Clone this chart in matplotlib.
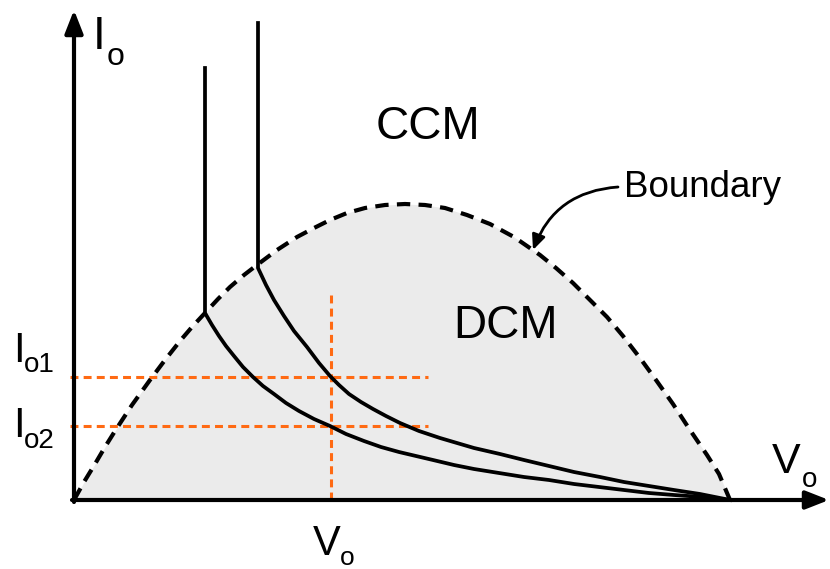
import matplotlib
matplotlib.use("Agg")
import matplotlib.pyplot as plt

plt.rcParams['font.family'] = ['Liberation Sans', 'DejaVu Sans']

# Data (arbitrary units; origin at the axes corner)
boundary_vo = [0, 10, 21, 31, 41, 58, 76, 91, 106, 118, 131, 144, 156, 170, 183, 203,
               223, 240, 256, 273, 291, 311, 331, 351, 371, 393, 416, 440, 466, 482,
               499, 516, 533, 549, 566, 582, 599, 616, 633, 645, 656]
boundary_io = [0, 18, 36, 53, 69, 95, 120, 140, 159, 173, 187, 201, 213, 225, 235, 250,
               263, 272, 280, 287, 292, 295, 296, 295, 292, 285, 276, 263, 245, 232,
               217, 200, 183, 164, 142, 120, 96, 70, 45, 26, 0]

curve1_vo = [131, 131, 138, 145, 152, 160, 169, 179, 189, 200, 212, 225, 240, 256, 272,
             290, 307, 325, 342, 359, 380, 400, 425, 450, 475, 500, 525, 550, 575, 600,
             628, 656]
curve1_io = [432, 187, 175, 164, 154, 144, 133, 123, 114, 106, 97, 89, 81, 74, 66,
             59, 53, 48, 44, 40, 35, 31, 27, 23, 20, 16, 13, 10, 7, 5, 3, 0]

curve2_vo = [184, 184, 192, 200, 210, 220, 233, 245, 256, 265, 275, 287, 299, 312, 326,
             345, 366, 383, 400, 426, 450, 475, 500, 526, 550, 575, 600, 626, 656]
curve2_io = [477, 232, 215, 200, 184, 169, 153, 137, 124, 115, 106, 98, 91, 84, 77,
             69, 62, 57, 52, 46, 40, 34, 28, 23, 18, 14, 10, 6, 0]

io_levels = [123, 74]            # Io1, Io2
io_labels = ['o1', 'o2']
vo_level = 257
orange_x_end = 354
orange_v_top = 205

fig = plt.figure(figsize=(8.3, 5.69), dpi=100)
ax = fig.add_axes([0, 0, 1, 1])
ax.set_xlim(-74, 756)
ax.set_ylim(-69, 500)
ax.axis('off')

ax.fill_between(boundary_vo, boundary_io, 0, color='#ebebeb', lw=0, zorder=1)

orange = '#ff6a13'
for lvl in io_levels:
    ax.plot([-4, orange_x_end], [lvl, lvl], color=orange, lw=2.2,
            linestyle=(0, (2.6, 1.7)), zorder=2)
ax.plot([vo_level, vo_level], [0, orange_v_top], color=orange, lw=2.2,
        linestyle=(0, (2.6, 1.7)), zorder=2)

ax.plot(boundary_vo, boundary_io, color='black', lw=3.0,
        linestyle=(0, (3.2, 2.0)), zorder=3)

ax.plot(curve1_vo, curve1_io, color='black', lw=2.7, zorder=4,
        solid_joinstyle='round')
ax.plot(curve2_vo, curve2_io, color='black', lw=2.7, zorder=4,
        solid_joinstyle='round')

# axes with arrows
ax.annotate('', xy=(0, 490), xytext=(0, -2),
            arrowprops=dict(arrowstyle='-|>,head_length=1.4,head_width=0.55',
                            lw=3.0, color='black', shrinkA=0, shrinkB=0,
                            mutation_scale=10), zorder=5)
ax.annotate('', xy=(755, 0), xytext=(-2, 0),
            arrowprops=dict(arrowstyle='-|>,head_length=1.4,head_width=0.55',
                            lw=3.0, color='black', shrinkA=0, shrinkB=0,
                            mutation_scale=10), zorder=5)

# Boundary arrow
ax.annotate('', xy=(459, 250), xytext=(544, 313),
            arrowprops=dict(arrowstyle='-|>,head_length=0.9,head_width=0.4',
                            lw=2.0, color='black', shrinkA=0, shrinkB=0,
                            mutation_scale=10,
                            connectionstyle='arc3,rad=0.32'), zorder=5)

def t(x, y, s, size):
    ax.text(x, y, s, fontsize=size, ha='left', va='baseline', color='black', zorder=6)

# Io axis label
t(93 - 74, 500 - 49, 'I', 33)
t(107 - 74, 500 - 65, 'o', 23)
# Vo axis label (right)
t(772 - 74, 500 - 473, 'V', 31)
t(802 - 74, 500 - 487, 'o', 20)
# Vo label (bottom)
t(313 - 74, 500 - 555, 'V', 30)
t(340 - 74, 500 - 565, 'o', 19)
# Io1, Io2
t(13 - 74, 500 - 362, 'I', 30)
t(24 - 74, 500 - 372, io_labels[0], 20)
t(13 - 74, 500 - 437, 'I', 30)
t(24 - 74, 500 - 448, io_labels[1], 20)
# regions
t(376 - 74, 500 - 139, 'CCM', 33)
t(453 - 74, 500 - 338, 'DCM', 33)
t(624 - 74, 500 - 197, 'Boundary', 26.5)

fig.savefig('out.png', dpi=100)
